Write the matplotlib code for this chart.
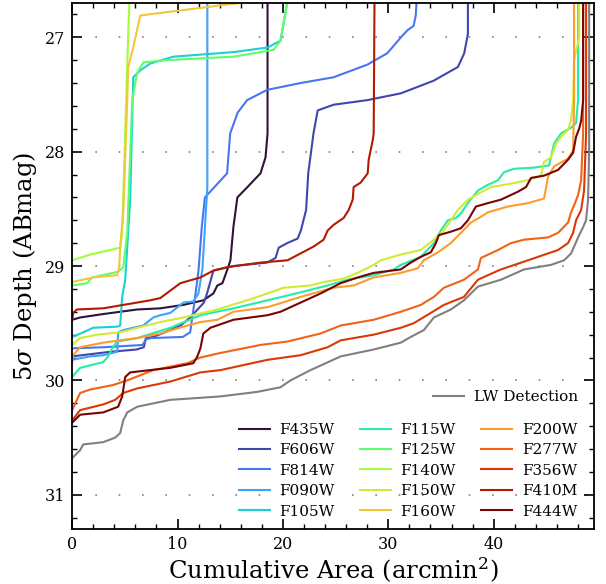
import numpy as np
import matplotlib
matplotlib.use("Agg")
import matplotlib.pyplot as plt
from matplotlib.ticker import MultipleLocator

plt.rcParams['font.family'] = ['DejaVu Serif']
plt.rcParams['mathtext.fontset'] = 'dejavuserif'

# cumulative area (arcmin^2) vs 5-sigma depth (ABmag)
lw_area = [0, 0.76, 1.05, 2.95, 4.09, 4.56, 4.85, 5.23, 6.18, 9.32, 14.07, 17.59, 19.77, 20.72, 22.62, 25.48,
           28.61, 31.18, 32.13, 33.37, 34.32, 35.93, 37.17, 38.50, 40.68, 42.87, 45.44, 46.67, 47.34, 48.00,
           48.48, 48.76, 48.95, 49.05, 49.05]
lw_depth = [30.68, 30.61, 30.56, 30.54, 30.50, 30.46, 30.35, 30.28, 30.23, 30.17, 30.14, 30.10, 30.06, 30.00,
            29.91, 29.79, 29.73, 29.67, 29.62, 29.56, 29.45, 29.38, 29.30, 29.18, 29.12, 29.03, 28.99, 28.95,
            28.89, 28.75, 28.66, 28.60, 28.42, 27.99, 26.5]

f435w_area = [0, 0.76, 2.95, 6.18, 8.37, 10.55, 12.45, 13.40, 13.78, 14.26, 14.73, 15.02, 15.30, 15.68, 16.63,
              17.87, 18.35, 18.54, 18.54]
f435w_depth = [29.47, 29.45, 29.42, 29.38, 29.37, 29.34, 29.30, 29.24, 29.17, 29.15, 29.03, 28.95, 28.66, 28.40,
               28.31, 28.19, 28.05, 27.84, 26.5]

f606w_area = [0, 3.6, 6.1, 6.8, 7.0, 7.7, 9.3, 10.3, 11.2, 11.9, 12.5, 12.8, 13.4, 15.3, 18.5, 19.3, 19.6, 20.4,
              21.4, 21.7, 22.2, 22.4, 22.9, 23.3, 24.8, 28.0, 31.2, 34.3, 36.6, 37.2, 37.55, 37.55]
f606w_depth = [29.79, 29.75, 29.73, 29.71, 29.63, 29.62, 29.56, 29.52, 29.45, 29.38, 29.32, 29.24, 29.04, 29.00,
               28.97, 28.93, 28.84, 28.80, 28.76, 28.69, 28.51, 28.19, 27.84, 27.64, 27.59, 27.55, 27.49, 27.38,
               27.26, 27.14, 26.97, 26.5]

f814w_area = [0, 3.0, 6.7, 7.0, 7.5, 10.5, 11.2, 11.4, 11.6, 12.0, 12.3, 12.6, 13.1, 14.7, 15.0, 15.7, 16.6,
              18.5, 21.7, 24.8, 28.0, 29.9, 31.2, 31.8, 32.4, 32.6, 32.8]
f814w_depth = [29.72, 29.71, 29.69, 29.64, 29.63, 29.62, 29.58, 29.45, 29.32, 29.03, 28.66, 28.40, 28.35, 28.19,
               27.84, 27.66, 27.55, 27.46, 27.40, 27.35, 27.24, 27.14, 27.00, 26.94, 26.90, 26.81, 26.5]

f090w_area = [0, 1.71, 2.95, 4.28, 4.37, 4.85, 6.75, 7.70, 8.37, 9.32, 10.55, 11.50, 11.98, 12.36, 12.64, 12.83,
              12.83]
f090w_depth = [29.82, 29.79, 29.78, 29.75, 29.58, 29.56, 29.52, 29.45, 29.43, 29.41, 29.32, 29.31, 29.24, 29.03,
               28.60, 28.31, 26.5]

f105w_area = [0, 1.05, 2.0, 4.28, 4.56, 4.75, 5.04, 5.51, 5.80, 6.46, 7.41, 9.60, 15.30, 18.54, 19.77, 20.44,
              20.44]
f105w_depth = [29.62, 29.58, 29.54, 29.53, 29.52, 29.27, 29.12, 28.42, 27.35, 27.29, 27.23, 27.17, 27.13, 27.09,
               27.03, 26.68, 26.5]

f115w_area = [0, 0.76, 2.95, 3.42, 3.80, 4.28, 6.18, 9.32, 12.17, 15.30, 18.54, 21.67, 24.24, 26.14, 28.61,
              30.51, 31.18, 33.08, 34.32, 34.98, 35.65, 36.41, 36.88, 37.55, 38.50, 39.45, 40.40, 40.97, 41.92,
              43.82, 45.25, 45.72, 46.39, 47.34, 47.81, 48.00, 48.00]
f115w_depth = [29.97, 29.89, 29.84, 29.79, 29.72, 29.66, 29.63, 29.54, 29.43, 29.37, 29.30, 29.23, 29.17, 29.12,
               29.08, 29.03, 28.99, 28.92, 28.80, 28.69, 28.60, 28.58, 28.54, 28.45, 28.34, 28.29, 28.25, 28.18,
               28.15, 28.14, 28.12, 27.93, 27.84, 27.79, 27.75, 27.55, 26.5]

f125w_area = [0, 1.43, 1.90, 4.37, 4.85, 5.23, 5.70, 6.18, 6.75, 9.03, 15.30, 19.11, 19.77, 20.44, 20.44]
f125w_depth = [29.17, 29.15, 29.10, 29.05, 29.01, 28.71, 27.55, 27.31, 27.22, 27.20, 27.17, 27.11, 27.03, 26.68,
               26.5]

f140w_area = [0, 1.71, 2.66, 4.56, 4.75, 5.04, 5.32, 5.51]
f140w_depth = [28.95, 28.90, 28.88, 28.84, 28.71, 27.84, 26.97, 26.5]

f150w_area = [0, 0.76, 2.38, 4.56, 6.18, 8.37, 10.55, 13.78, 16.25, 17.59, 20.06, 22.62, 23.86, 25.76, 27.09,
              28.61, 29.28, 31.18, 33.08, 34.32, 35.27, 36.60, 37.55, 38.50, 39.73, 41.63, 43.25, 44.49, 44.77,
              45.44, 45.91, 46.39, 47.05, 47.34, 47.53, 47.62, 48.10, 48.10]
f150w_depth = [29.69, 29.63, 29.60, 29.58, 29.54, 29.49, 29.45, 29.38, 29.31, 29.27, 29.19, 29.17, 29.14, 29.11,
               29.06, 28.99, 28.95, 28.90, 28.86, 28.77, 28.69, 28.51, 28.42, 28.37, 28.31, 28.28, 28.25, 28.21,
               28.09, 28.05, 27.93, 27.87, 27.81, 27.72, 27.55, 27.20, 27.00, 26.5]

f160w_area = [0, 2.0, 4.28, 4.47, 4.56, 4.85, 5.23, 5.32, 5.80, 6.46, 9.03, 15.97, 17.87]
f160w_depth = [29.14, 29.10, 29.08, 29.01, 28.83, 28.54, 27.55, 27.26, 27.09, 26.81, 26.78, 26.70, 26.66]

f200w_area = [0, 0.1, 0.76, 2.95, 6.18, 8.37, 10.55, 12.17, 13.78, 15.30, 18.54, 21.67, 24.81, 26.71, 28.61,
              31.18, 32.79, 33.37, 34.70, 35.93, 37.83, 38.78, 39.45, 41.35, 43.25, 44.77, 45.15, 45.72, 47.05,
              47.53, 47.62, 47.62]
f200w_depth = [29.84, 29.78, 29.71, 29.67, 29.63, 29.59, 29.53, 29.49, 29.47, 29.40, 29.36, 29.27, 29.19, 29.17,
               29.10, 29.06, 29.02, 28.95, 28.88, 28.80, 28.62, 28.57, 28.53, 28.48, 28.45, 28.41, 28.22, 28.13,
               28.06, 27.99, 27.55, 26.5]

f277w_area = [0, 0.76, 1.71, 3.90, 5.23, 7.70, 10.93, 12.17, 14.07, 17.87, 20.44, 23.57, 25.48, 28.61, 31.18,
              33.08, 34.32, 35.27, 37.17, 38.50, 38.78, 40.40, 41.63, 42.87, 45.15, 46.10, 47.05, 47.34, 47.62,
              48.00, 48.29, 48.48, 48.48]
f277w_depth = [30.26, 30.11, 30.08, 30.04, 30.00, 29.91, 29.85, 29.80, 29.76, 29.69, 29.66, 29.59, 29.52, 29.47,
               29.40, 29.34, 29.27, 29.19, 29.12, 29.03, 28.93, 28.86, 28.80, 28.77, 28.75, 28.71, 28.62, 28.53,
               28.47, 28.38, 28.25, 27.84, 26.5]

f356w_area = [0, 0.76, 2.95, 4.09, 4.85, 6.18, 9.32, 12.17, 14.07, 18.54, 21.67, 24.24, 25.48, 28.61, 31.18,
              32.41, 34.03, 35.27, 37.17, 38.50, 39.45, 40.68, 43.25, 46.10, 47.05, 47.53, 47.81, 48.29, 48.57,
              48.76, 48.76]
f356w_depth = [30.35, 30.26, 30.21, 30.17, 30.11, 30.07, 30.01, 29.93, 29.91, 29.82, 29.78, 29.71, 29.65, 29.60,
               29.54, 29.50, 29.41, 29.34, 29.27, 29.12, 29.08, 29.03, 28.95, 28.86, 28.80, 28.71, 28.60, 28.51,
               28.34, 27.84, 26.5]

f410m_area = [0, 0.1, 0.45, 2.95, 4.85, 7.41, 8.37, 10.27, 12.17, 13.40, 14.73, 17.87, 20.44, 21.67, 22.91,
              23.86, 24.24, 24.81, 25.76, 26.24, 26.62, 26.71, 27.38, 28.04, 28.14, 28.52, 28.61, 28.70]
f410m_depth = [29.48, 29.41, 29.38, 29.37, 29.34, 29.30, 29.28, 29.15, 29.10, 29.04, 29.01, 28.97, 28.95, 28.89,
               28.83, 28.77, 28.69, 28.64, 28.58, 28.51, 28.42, 28.31, 28.27, 28.19, 28.07, 27.90, 27.84, 26.5]

f444w_area = [0, 0.76, 2.95, 4.37, 4.75, 5.04, 5.51, 9.32, 11.50, 11.88, 12.17, 12.45, 13.12, 15.30, 18.54,
              19.77, 21.67, 23.57, 25.48, 27.09, 28.61, 31.18, 32.13, 33.08, 34.03, 34.51, 34.79, 35.93, 36.88,
              37.55, 38.31, 39.45, 40.68, 42.30, 43.06, 43.54, 44.77, 46.10, 47.05, 47.53, 47.81, 48.10, 48.29,
              48.48, 48.48]
f444w_depth = [30.37, 30.30, 30.28, 30.23, 30.14, 29.97, 29.93, 29.89, 29.85, 29.79, 29.72, 29.59, 29.54, 29.47,
               29.43, 29.40, 29.32, 29.24, 29.15, 29.10, 29.06, 29.03, 28.97, 28.92, 28.88, 28.80, 28.73, 28.70,
               28.67, 28.60, 28.48, 28.45, 28.42, 28.35, 28.31, 28.23, 28.21, 28.16, 28.07, 28.01, 27.87, 27.80,
               27.73, 27.55, 26.5]

filters = ['F435W', 'F606W', 'F814W', 'F090W', 'F105W', 'F115W', 'F125W', 'F140W',
           'F150W', 'F160W', 'F200W', 'F277W', 'F356W', 'F410M', 'F444W']
curves = [(f435w_area, f435w_depth), (f606w_area, f606w_depth), (f814w_area, f814w_depth),
          (f090w_area, f090w_depth), (f105w_area, f105w_depth), (f115w_area, f115w_depth),
          (f125w_area, f125w_depth), (f140w_area, f140w_depth), (f150w_area, f150w_depth),
          (f160w_area, f160w_depth), (f200w_area, f200w_depth), (f277w_area, f277w_depth),
          (f356w_area, f356w_depth), (f410m_area, f410m_depth), (f444w_area, f444w_depth)]

colors = plt.cm.turbo(np.linspace(0, 1, len(filters)))

fig = plt.figure(figsize=(6.06, 5.84), dpi=100)
ax = fig.add_axes([0.119, 0.094, 0.861, 0.901])

lw_line, = ax.plot(lw_area, lw_depth, color='gray', lw=1.5, label='LW Detection')
handles = []
for name, (a, d), c in zip(filters, curves, colors):
    h, = ax.plot(a, d, color=c, lw=1.5, label=name)
    handles.append(h)

ax.set_xlim(0, 49.5)
ax.set_ylim(31.3, 26.7)
ax.xaxis.set_major_locator(MultipleLocator(10))
ax.xaxis.set_minor_locator(MultipleLocator(2))
ax.yaxis.set_major_locator(MultipleLocator(1))
ax.yaxis.set_minor_locator(MultipleLocator(0.2))
ax.tick_params(which='both', direction='in', top=True, right=True, labelsize=11.5)
ax.tick_params(which='major', length=7, width=1.2, pad=5)
ax.tick_params(which='minor', length=3.5, width=1)
for s in ax.spines.values():
    s.set_linewidth(1.3)
ax.yaxis.grid(True, which='major', color='gray', linestyle=(0, (1, 13)), lw=1.2)

ax.set_xlabel('Cumulative Area (arcmin$^2$)', fontsize=17.5, labelpad=2)
ax.set_ylabel(r'5$\sigma$ Depth (ABmag)', fontsize=17.5, labelpad=4)

leg1 = ax.legend(handles=handles, ncol=3, loc='lower left', bbox_to_anchor=(0.320, 0.02),
                 borderaxespad=0, borderpad=0, frameon=False, fontsize=11, handlelength=2.0,
                 columnspacing=1.65, labelspacing=0.42, handletextpad=0.65)
ax.add_artist(leg1)
ax.legend(handles=[lw_line], loc='lower left', bbox_to_anchor=(0.692, 0.238), borderaxespad=0,
          borderpad=0, frameon=False, fontsize=11, handlelength=2.0, handletextpad=0.65)

fig.savefig('out.png', dpi=100)
